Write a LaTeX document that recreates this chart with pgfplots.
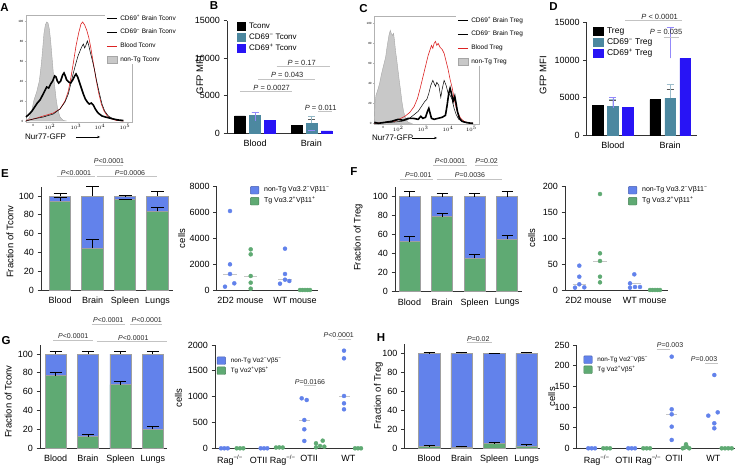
\documentclass[border=0pt]{standalone}
\usepackage{fontspec}
\setmainfont{Liberation Sans}
\usepackage{pgfplots}
\pgfplotsset{compat=1.18}
\usetikzlibrary{arrows.meta}

\definecolor{cblue}{RGB}{98,130,235}
\definecolor{cgreen}{RGB}{95,170,115}
\definecolor{cteal}{RGB}{76,136,160}
\definecolor{cvivid}{RGB}{40,20,245}
\definecolor{cred}{RGB}{220,35,35}
\definecolor{hgrey}{RGB}{200,200,200}
\definecolor{sigline}{RGB}{195,195,195}

\newcommand{\fs}[1]{\fontsize{#1}{#1}\selectfont}
\newcommand{\m}{\textsuperscript{−}}
\newcommand{\p}{\textsuperscript{+}}

\tikzset{pv/.style={font=\fs{7}, anchor=south, inner sep=1.2pt, text=black!85},
  sig/.style={sigline, line width=0.8pt},
  lett/.style={font=\bfseries\fs{11.5}}}

\pgfplotsset{
  every axis/.append style={/pgf/number format/assume math mode=true,
    /pgf/number format/set thousands separator={}, scaled ticks=false},
  base/.style={scale only axis, anchor=south west, clip=false},
  prism/.style={base, axis x line=bottom, axis y line=left,
    axis line style={-, line width=0.8pt, black!80},
    tick align=outside, major tick length=3.5pt,
    ytick style={line width=0.8pt, black!80}, xtick style={draw=none},
    tick label style={font=\fs{9}}, label style={font=\fs{9.5}},
    legend cell align=left},
  flow/.style={base, axis line style={line width=0.5pt, gray!60},
    tick pos=left, tick align=outside, major tick length=1.5pt,
    tick style={gray!60, line width=0.4pt},
    tick label style={font=\fs{3}, inner sep=1pt}, legend cell align=left},
  errs/.style={forget plot, draw=none, mark=none, error bars/.cd, y dir=plus, y explicit,
    error bar style={draw=black, line width=0.7pt},
    error mark options={rotate=90, mark size=#1, draw=black, line width=0.7pt}},
  sqleg/.style={legend image code/.code={\fill[#1] (0pt,-4pt) rectangle (8pt,4pt);}},
  sqlegw/.style={legend image code/.code={\fill[#1] (0pt,-4pt) rectangle (10pt,4pt);}},
  dotleg/.style={legend image code/.code={\filldraw[fill=#1, draw=#1!75!black, line width=0.4pt, rounded corners=0.8pt] (0pt,-3.8pt) rectangle (8.5pt,3.8pt);}},
  lineleg/.style={legend image code/.code={\draw[#1] (0pt,0pt) -- (10pt,0pt);}},
  boxleg/.style={legend image code/.code={\filldraw[fill=hgrey, draw=gray!70, line width=0.4pt] (0pt,-3.5pt) rectangle (10pt,3.5pt);}},
  bleg/.style={legend style={anchor=north west, draw=none, fill=none, inner sep=0pt, row sep=2.3pt, font=\fs{8},
    nodes={inner sep=0.5pt, text height=6pt, text depth=1.7pt},
    /tikz/every odd column/.append style={column sep=3pt}}},
  sleg/.style={legend style={anchor=north west, draw=none, fill=none, inner sep=0pt, row sep=2.5pt, font=\fs{#1},
    nodes={inner sep=0.5pt, text height=5pt, text depth=1.5pt},
    /tikz/every odd column/.append style={column sep=4.5pt}}},
  hleg/.style={legend style={anchor=north west, draw=none, fill=white, inner sep=1pt, row sep=6.5pt, font=\fs{6.5},
    nodes={inner sep=0.5pt, text height=4.8pt, text depth=1.4pt},
    /tikz/every odd column/.append style={column sep=2pt}}},
  dots/.style={forget plot, only marks, mark=*, mark size=2pt, mark options={draw=#1, fill=#1}},
}

\begin{document}
\begin{tikzpicture}
\path[use as bounding box] (0,0) rectangle (738pt,466pt);

% ---------------- A : Tconv histograms
\begin{axis}[flow, hleg, at={(26pt,344pt)}, width=106pt, height=107pt,
  xmin=78, xmax=396, ymin=-1, ymax=106,
  xtick={100,150,228,300,375}, xticklabels={0,$10^2$,$10^3$,$10^4$,$10^5$},
  ytick={0,20,40,60,80,100},
  legend style={at={(0.745,1.012)}}]
\addplot[forget plot, fill=hgrey, draw=gray!70, line width=0.4pt] coordinates {
 (78,0.3)(88,3)(95,10)(102,21)(110,29)(118,40)(124,57)(128,72)(132,88)(136,96)(140,99)
 (144,98)(148,92)(152,80)(156,64)(160,48)(164,35)(168,23)(173,12)(180,4)(190,0.5)(200,0)} \closedcycle;
\addplot[forget plot, cred, line width=0.6pt] coordinates {
 (78,0.5)(100,2)(130,5)(160,8)(180,12)(195,20)(205,30)(212,42)(220,58)(228,75)(236,88)(243,97)
 (248,99)(254,96)(260,91)(266,84)(272,74)(280,58)(288,42)(296,28)(304,17)(312,10)(322,5)(335,2)(350,0.5)(370,0)};
\addplot[forget plot, black, line width=0.5pt] coordinates {
 (78,0)(100,2)(130,4)(160,7)(180,12)(195,19)(205,27)(213,38)(220,48)(228,58)(234,65)(240,70)(245,74)
 (250,77)(254,73)(258,76)(262,80)(266,76)(270,70)(276,62)(283,52)(290,40)(298,28)(306,17)(314,10)(325,5)(340,2)(355,0.5)(370,0)};
\addplot[forget plot, black, line width=1.6pt] coordinates {
 (78,4)(88,7)(96,10)(104,14)(112,18)(120,21)(128,26)(134,30)(140,34)(146,33)(152,37)(158,40)(164,45)
 (168,44)(172,40)(176,38)(182,40)(188,46)(192,48)(196,45)(200,41)(206,39)(212,38)(218,41)(224,45)(228,47)
 (233,44)(238,39)(244,33)(250,27)(256,22)(262,19)(268,17)(274,18)(280,16)(286,12)(292,9)(298,7)(306,5)
 (316,4)(328,3)(340,2)(355,1)(370,0.5)};
\addlegendimage{lineleg={black,line width=1.6pt}}\addlegendentry{CD69\p{} Brain Tconv}
\addlegendimage{lineleg={black,line width=0.5pt}}\addlegendentry{CD69\m{} Brain Tconv}
\addlegendimage{lineleg={cred,line width=0.6pt}}\addlegendentry{Blood Tconv}
\addlegendimage{boxleg}\addlegendentry{non-Tg Tconv}
\node[anchor=west, font=\fs{8}, inner sep=0pt] at (rel axis cs:-0.01,-0.14) {Nur77-GFP};
\draw[-{Stealth[length=3pt]}, line width=0.7pt] (rel axis cs:0.47,-0.14) -- (rel axis cs:0.70,-0.14);
\end{axis}

% ---------------- B : Tconv MFI
\begin{axis}[prism, bleg, at={(227pt,332.7pt)}, width=106pt, height=112.6pt,
  xmin=0.504, xmax=2.381, ymin=0, ymax=15000, ytick={0,5000,10000,15000},
  xtick={1,2}, xticklabels={Blood,Brain},
  ylabel={GFP MFI}, ylabel style={at={(axis description cs:-0.255,0.518)}, anchor=center},
  legend style={at={(0.094,0.988)}}]
\addplot[forget plot, ybar, bar width=10.7pt, bar shift=-15pt, fill=black, draw=black,
  error bars/.cd, y dir=plus, y explicit, error bar style={black!65, line width=0.7pt},
  error mark options={rotate=90, mark size=3.5pt, black!65, line width=0.7pt}]
  coordinates {(1,2308) +- (0,488) (2,1065) +- (0,843)};
\addplot[forget plot, ybar, bar width=10.7pt, bar shift=0pt, fill=cteal, draw=cteal,
  error bars/.cd, y dir=plus, y explicit, error bar style={cteal!60, line width=0.7pt},
  error mark options={rotate=90, mark size=3.5pt, cteal!60, line width=0.7pt}]
  coordinates {(1,2352) +- (0,444) (2,1331) +- (0,977)};
\addplot[forget plot, ybar, bar width=10.7pt, bar shift=15pt, fill=cvivid, draw=cvivid,
  error bars/.cd, y dir=plus, y explicit, error bar style={cvivid!50, line width=0.7pt},
  error mark options={rotate=90, mark size=3.5pt, cvivid!50, line width=0.7pt}]
  coordinates {(1,1686) +- (0,1110) (2,311) +- (0,133)};
\addlegendimage{sqleg=black}\addlegendentry{Tconv}
\addlegendimage{sqleg=cteal}\addlegendentry{CD69\m{} Tconv}
\addlegendimage{sqleg=cvivid}\addlegendentry{CD69\p{} Tconv}
\draw[sig] (axis cs:0.734,5541) -- (axis cs:1.649,5541);
\node[pv, font=\fs{7.5}] at (axis cs:1.295,5541) {\textit{P} = 0.0027};
\draw[sig] (axis cs:1.053,7233) -- (axis cs:2.061,7233);
\node[pv, font=\fs{7.5}] at (axis cs:1.571,7233) {\textit{P} = 0.043};
\draw[sig] (axis cs:1.384,8871) -- (axis cs:2.327,8871);
\node[pv, font=\fs{7.5}] at (axis cs:1.826,8871) {\textit{P} = 0.17};
\draw[sig] (axis cs:2.115,2877) -- (axis cs:2.357,2877);
\node[pv, font=\fs{7.5}] at (axis cs:2.162,2877) {\textit{P} = 0.011};
\end{axis}

% ---------------- C : Treg histograms
\begin{axis}[flow, hleg, at={(374.3pt,342pt)}, width=104.7pt, height=107.3pt,
  xmin=28, xmax=343, ymin=-0.67, ymax=106.7,
  xtick={55,100,175,250,320}, xticklabels={0,$10^2$,$10^3$,$10^4$,$10^5$},
  ytick={0,20,40,60,80,100},
  legend style={at={(0.78,1.01)}}]
\addplot[forget plot, fill=hgrey, draw=gray!70, line width=0.4pt] coordinates {
 (28,0)(30,20)(33,28)(38,33)(44,40)(50,50)(56,58)(62,66)(67,78)(72,88)(76,93)(79,90)(83,88)(86,90)
 (89,82)(92,72)(95,65)(99,54)(103,43)(107,33)(111,22)(116,12)(122,5)(130,1)(140,0)} \closedcycle;
\addplot[forget plot, cred, line width=0.6pt] coordinates {
 (28,0)(60,1)(90,2)(120,7)(135,11)(148,17)(158,25)(166,35)(174,46)(182,57)(190,68)(196,74)(200,78)
 (204,75)(208,80)(212,82)(216,78)(220,80)(226,76)(232,74)(238,70)(244,62)(250,54)(256,44)(262,36)
 (268,25)(274,16)(280,10)(288,5)(298,2)(310,0.5)(325,0)};
\addplot[forget plot, black, line width=0.5pt] coordinates {
 (28,0)(80,1)(110,2)(130,4)(145,8)(160,12)(170,17)(180,22)(186,24)(192,30)(198,38)(204,43)(208,40)
 (212,37)(216,41)(222,38)(228,26)(232,34)(238,43)(244,38)(250,30)(256,28)(262,24)(268,15)(274,9)
 (282,4)(292,2)(305,0.5)(320,0)};
\addplot[forget plot, black, line width=1.6pt] coordinates {
 (28,1)(40,0)(60,1)(80,2)(100,4)(115,3)(130,5)(145,5)(160,4)(168,7)(174,5)(182,6)(188,12)(192,15)
 (196,10)(200,5)(208,4)(220,5)(232,6)(242,8)(247,18)(252,30)(256,35)(260,30)(265,22)(270,27)(274,20)
 (278,12)(284,5)(292,2)(302,1)(315,0.3)(325,0)};
\addlegendimage{lineleg={black,line width=1.6pt}}\addlegendentry{CD69\p{} Brain Treg}
\addlegendimage{lineleg={black,line width=0.5pt}}\addlegendentry{CD69\m{} Brain Treg}
\addlegendimage{lineleg={cred,line width=0.6pt}}\addlegendentry{Blood Treg}
\addlegendimage{boxleg}\addlegendentry{non-Tg Treg}
\node[anchor=west, font=\fs{8}, inner sep=0pt] at (rel axis cs:-0.022,-0.13) {Nur77-GFP};
\draw[-{Stealth[length=3pt]}, line width=0.7pt] (rel axis cs:0.36,-0.13) -- (rel axis cs:0.60,-0.13);
\end{axis}

% ---------------- D : Treg MFI
\begin{axis}[prism, bleg, at={(586.7pt,331pt)}, width=110.3pt, height=112.3pt,
  xmin=0.541, xmax=2.47, ymin=0, ymax=15000, ytick={0,5000,10000,15000},
  xtick={1,2}, xticklabels={Blood,Brain},
  ylabel={GFP MFI}, ylabel style={at={(axis description cs:-0.396,0.534)}, anchor=center},
  legend style={at={(0.057,0.965)}, row sep=1.6pt, font=\fs{8.5}, nodes={text height=6.3pt, text depth=1.8pt}}]
\addplot[forget plot, ybar, bar width=10.7pt, bar shift=-15pt, fill=black, draw=black,
  error bars/.cd, y dir=plus, y explicit, error bar style={black!65, line width=0.7pt},
  error mark options={rotate=90, mark size=3.5pt, black!65, line width=0.7pt}]
  coordinates {(1,3916) +- (0,757) (2,4718) +- (0,1424)};
\addplot[forget plot, ybar, bar width=10.7pt, bar shift=0pt, fill=cteal, draw=cteal,
  error bars/.cd, y dir=plus, y explicit, error bar style={cteal!55, line width=0.7pt},
  error mark options={rotate=90, mark size=3.5pt, cteal!55, line width=0.7pt}]
  coordinates {(1,3872) +- (0,935) (2,4896) +- (0,1870)};
\addplot[forget plot, ybar, bar width=10.7pt, bar shift=15pt, fill=cvivid, draw=cvivid,
  error bars/.cd, y dir=plus, y explicit, error bar style={cvivid!50, line width=0.7pt},
  error mark options={rotate=90, mark size=3.5pt, cvivid!50, line width=0.7pt}]
  coordinates {(1,3650) +- (0,1380) (2,10237) +- (0,4138)};
\addlegendimage{sqlegw=black}\addlegendentry{Treg}
\addlegendimage{sqlegw=cteal}\addlegendentry{CD69\m{} Treg}
\addlegendimage{sqlegw=cvivid}\addlegendentry{CD69\p{} Treg}
\draw[sig] (axis cs:1.214,15270) -- (axis cs:2.211,15270);
\node[pv, font=\fs{7.5}] at (axis cs:1.817,15270) {\textit{P} < 0.0001};
\draw[sig] (axis cs:1.887,13053) -- (axis cs:2.151,13053);
\node[pv, font=\fs{7.5}] at (axis cs:1.93,13250) {\textit{P} = 0.035};
\end{axis}

% ---------------- E left : fraction of Tconv
\begin{axis}[prism, at={(41pt,176pt)}, width=132pt, height=103.3pt,
  xmin=0.415, xmax=4.477, ymin=0, ymax=110, ytick={0,20,...,100},
  xtick={1,2,3,4}, xticklabels={Blood,Brain,Spleen,Lungs},
  ylabel={Fraction of Tconv}, ylabel style={at={(axis description cs:-0.235,0.467)}, anchor=center}]
\addplot[ybar, bar width=21.5pt, bar shift=0pt, fill=cblue, draw=gray!75, line width=0.6pt]
  coordinates {(1,100)(2,100)(3,100)(4,100)};
\addplot[ybar, bar width=21.5pt, bar shift=0pt, fill=cgreen, draw=gray!75, line width=0.6pt]
  coordinates {(1,94.7)(2,44.2)(3,96.1)(4,83.7)};
\addplot[errs=6.5pt] coordinates {(1,94.7) +- (0,3.5) (2,44.2) +- (0,9.5) (3,96.1) +- (0,0.5) (4,83.7) +- (0,4.6)};
\addplot[errs=6.5pt] coordinates {(1,100) +- (0,3.2) (2,100) +- (0,10.2) (3,100) +- (0,0.4) (4,100) +- (0,4.6)};
\draw[sig] (axis cs:0.898,120.7) -- (axis cs:2.077,120.7);
\node[pv] at (axis cs:1.492,120.7) {\textit{P}<0.0001};
\draw[sig] (axis cs:2.077,133.1) -- (axis cs:2.947,133.1);
\node[pv] at (axis cs:2.507,133.1) {\textit{P}<0.0001};
\draw[sig] (axis cs:2.129,120.7) -- (axis cs:3.975,120.7);
\node[pv] at (axis cs:3.153,120.7) {\textit{P}=0.0006};
\end{axis}

% ---------------- E right : cells (2D2)
\begin{axis}[prism, sleg=7, at={(216.7pt,176pt)}, width=101.6pt, height=104pt,
  xmin=216.7, xmax=318.3, ymin=0, ymax=8000, ytick={0,2000,...,8000},
  xtick={240.3,295}, xticklabels={2D2 mouse,WT mouse},
  ylabel={cells}, ylabel style={at={(axis description cs:-0.344,0.495)}, anchor=center},
  legend style={at={(0.328,1.0)}, row sep=3pt}]
\addplot[forget plot, gray!45, line width=0.6pt] coordinates {(223.3,1231)(236.7,1231)};
\addplot[forget plot, gray!45, line width=0.6pt] coordinates {(244,1077)(257.3,1077)};
\addplot[forget plot, gray!45, line width=0.6pt] coordinates {(278,820)(292,820)};
\addplot[dots=cblue] coordinates {
 (225,256)(230,6077)(230,1974)(230,1231)(234.3,513)(285,3179)(285,1231)(285,795)(280,487)(289.3,692)};
\addplot[dots=cgreen] coordinates {
 (250.7,3128)(250.7,2744)(250.7,1077)(250.7,564)(250.7,103)(300,0)(302.5,0)(305,0)(307.5,0)(310,0)};
\addlegendimage{dotleg=cblue}\addlegendentry{non-Tg Vα3.2\m{}Vβ11\m}
\addlegendimage{dotleg=cgreen}\addlegendentry{Tg Vα3.2\p{}Vβ11\p}
\end{axis}

% ---------------- F left : fraction of Treg
\begin{axis}[prism, at={(395pt,174.3pt)}, width=126.7pt, height=104.5pt,
  xmin=0.555, xmax=4.445, ymin=0, ymax=110, ytick={0,20,...,100},
  xtick={1,2,3,4}, xticklabels={Blood,Brain,Spleen,Lungs},
  ylabel={Fraction of Treg}, ylabel style={at={(axis description cs:-0.29,0.519)}, anchor=center}]
\addplot[ybar, bar width=21pt, bar shift=0pt, fill=cblue, draw=gray!75, line width=0.6pt]
  coordinates {(1,100)(2,100)(3,100)(4,100)};
\addplot[ybar, bar width=21pt, bar shift=0pt, fill=cgreen, draw=gray!75, line width=0.6pt]
  coordinates {(1,52.6)(2,78.9)(3,35.1)(4,55.1)};
\addplot[errs=5.5pt] coordinates {(1,52.6) +- (0,5.3) (2,78.9) +- (0,3.6) (3,35.1) +- (0,4.2) (4,55.1) +- (0,4.5)};
\addplot[errs=5.5pt] coordinates {(1,100) +- (0,5.6) (2,100) +- (0,3.2) (3,100) +- (0,3.2) (4,100) +- (0,5.6)};
\draw[sig] (axis cs:0.708,118.3) -- (axis cs:1.730,118.3);
\node[pv] at (axis cs:1.270,118.3) {\textit{P}=0.001};
\draw[sig] (axis cs:1.730,133.4) -- (axis cs:2.754,133.4);
\node[pv] at (axis cs:2.242,133.4) {\textit{P}<0.0001};
\draw[sig] (axis cs:3.009,133.4) -- (axis cs:3.724,133.4);
\node[pv] at (axis cs:3.368,133.4) {\textit{P}=0.02};
\draw[sig] (axis cs:1.834,118.3) -- (axis cs:3.828,118.3);
\node[pv] at (axis cs:2.856,118.3) {\textit{P}=0.0036};
\end{axis}

% ---------------- F right : cells (2D2) Treg
\begin{axis}[prism, sleg=7, at={(565pt,176pt)}, width=103.3pt, height=104pt,
  xmin=565, xmax=668.3, ymin=0, ymax=200, ytick={0,50,...,200},
  xtick={588.5,644.5}, xticklabels={2D2 mouse,WT mouse},
  ylabel={cells}, ylabel style={at={(axis description cs:-0.322,0.5)}, anchor=center},
  legend style={at={(0.61,1.0)}, row sep=3pt}]
\addplot[forget plot, gray!45, line width=0.6pt] coordinates {(572.5,11)(586,11)};
\addplot[forget plot, gray!45, line width=0.6pt] coordinates {(593,55.8)(607,55.8)};
\addplot[forget plot, gray!45, line width=0.6pt] coordinates {(627.5,12.8)(641,12.8)};
\addplot[dots=cblue] coordinates {
 (575,4.5)(579.3,11)(579.3,25.6)(579.3,46.8)(584.3,5.1)(630,12.8)(630,4.5)(634.3,30.1)(635,5.8)(640,5.8)};
\addplot[dots=cgreen] coordinates {
 (600,184.6)(600,70.5)(600,55.8)(600,25.6)(600,14.7)(650,0)(652.5,0)(655,0)(657.5,0)(660,0)};
\addlegendimage{dotleg=cblue}\addlegendentry{non-Tg Vα3.2\m{}Vβ11\m}
\addlegendimage{dotleg=cgreen}\addlegendentry{Tg Vα3.2\p{}Vβ11\p}
\end{axis}

% ---------------- G left : fraction of Tconv (OTII)
\begin{axis}[prism, at={(40pt,17.7pt)}, width=126.7pt, height=103.7pt,
  xmin=0.52, xmax=4.43, ymin=0, ymax=110, ytick={0,20,...,100},
  xtick={1,2,3,4}, xticklabels={Blood,Brain,Spleen,Lungs},
  ylabel={Fraction of Tconv}, ylabel style={at={(axis description cs:-0.25,0.449)}, anchor=center}]
\addplot[ybar, bar width=21pt, bar shift=0pt, fill=cblue, draw=gray!75, line width=0.6pt]
  coordinates {(1,100)(2,100)(3,100)(4,100)};
\addplot[ybar, bar width=21pt, bar shift=0pt, fill=cgreen, draw=gray!75, line width=0.6pt]
  coordinates {(1,77.0)(2,12.4)(3,67.5)(4,20.1)};
\addplot[errs=6pt] coordinates {(1,77.0) +- (0,3.6) (2,12.4) +- (0,2.4) (3,67.5) +- (0,3.2) (4,20.1) +- (0,3.2)};
\addplot[errs=6pt] coordinates {(1,100) +- (0,2.5) (2,100) +- (0,2.8) (3,100) +- (0,2.8) (4,100) +- (0,2.8)};
\draw[sig] (axis cs:0.930,114.8) -- (axis cs:2.165,114.8);
\node[pv] at (axis cs:1.548,114.8) {\textit{P}<0.0001};
\draw[sig] (axis cs:2.27,113) -- (axis cs:4.43,113);
\node[pv] at (axis cs:3.40,113) {\textit{P}<0.0001};
\draw[sig] (axis cs:2.116,131.8) -- (axis cs:3.143,131.8);
\node[pv] at (axis cs:2.628,131.8) {\textit{P}<0.0001};
\draw[sig] (axis cs:3.298,131.8) -- (axis cs:4.276,131.8);
\node[pv] at (axis cs:3.813,131.8) {\textit{P}<0.0001};
\end{axis}

% ---------------- G right : cells (OTII) Tconv
\begin{axis}[prism, sleg=6.3, at={(215pt,17.7pt)}, width=148.3pt, height=103.3pt,
  xmin=215, xmax=363.3, ymin=0, ymax=2000, ytick={0,500,...,2000},
  xtick={230,272.7,309,348.3}, xticklabels={Rag\textsuperscript{−/−},OTII Rag\textsuperscript{−/−},OTII,WT},
  ylabel={cells}, ylabel style={at={(axis description cs:-0.247,0.487)}, anchor=center},
  legend style={at={(0.0115,0.889)}, row sep=2pt}]
\addplot[forget plot, gray!45, line width=0.6pt] coordinates {(299,548)(310,548)};
\addplot[forget plot, gray!45, line width=0.6pt] coordinates {(339,1000)(350,1000)};
\addplot[dots=cblue] coordinates {
 (221,0)(224.3,0)(227.7,0)(260.7,0)(264,0)(267.3,0)
 (301.7,968)(306.7,935)(304.3,548)(304.3,368)(304.3,142)
 (344,1890)(344,1742)(344,1013)(344,871)(344,755)};
\addplot[dots=cgreen] coordinates {
 (236.7,0)(240,0)(243.3,0)(276,15)(279.3,18)(282.7,15)
 (316,97)(316,19)(320,45)(322.7,148)(324.3,32)(355,0)(358,0)(361,0)};
\addlegendimage{dotleg=cblue}\addlegendentry{non-Tg Vα2\m{}Vβ5\m}
\addlegendimage{dotleg=cgreen}\addlegendentry{Tg Vα2\p{}Vβ5\p}
\draw[sig] (axis cs:304.3,1212) -- (axis cs:315.7,1212);
\node[pv] at (axis cs:310,1212) {\textit{P}=0.0166};
\draw[sig] (axis cs:338.3,2116) -- (axis cs:350.7,2116);
\node[pv] at (axis cs:338.7,2116) {\textit{P}<0.0001};
\end{axis}

% ---------------- H left : fraction of Treg (OTII)
\begin{axis}[prism, at={(404.3pt,17.7pt)}, width=135.7pt, height=104.5pt,
  xmin=0.234, xmax=4.41, ymin=0, ymax=110, ytick={0,20,...,100},
  xtick={1,2,3,4}, xticklabels={Blood,Brain,Spleen,Lungs},
  ylabel={Fraction of Treg}, ylabel style={at={(axis description cs:-0.19,0.503)}, anchor=center}]
\addplot[ybar, bar width=21.5pt, bar shift=0pt, fill=cblue, draw=gray!75, line width=0.6pt]
  coordinates {(1,100)(2,100)(3,100)(4,100)};
\addplot[ybar, bar width=21.5pt, bar shift=0pt, fill=cgreen, draw=gray!75, line width=0.6pt]
  coordinates {(1,1.8)(2,1.1)(3,5.3)(4,2.5)};
\addplot[errs=5.5pt] coordinates {(1,1.8) +- (0,1.7) (2,1.1) +- (0,1.4) (3,5.3) +- (0,0.7) (4,2.5) +- (0,1.7)};
\addplot[errs=5.5pt] coordinates {(1,100) +- (0,0.7) (2,100) +- (0,1.0) (3,100) +- (0,0.4) (4,100) +- (0,1.0)};
\draw[sig] (axis cs:2.154,111.2) -- (axis cs:2.923,111.2);
\node[pv] at (axis cs:2.511,111.2) {\textit{P}=0.02};
\end{axis}

% ---------------- H right : cells (OTII) Treg
\begin{axis}[prism, sleg=6.3, at={(576.7pt,17.7pt)}, width=158.3pt, height=103.3pt,
  xmin=576.7, xmax=735, ymin=0, ymax=250, ytick={0,50,...,250},
  xtick={596.7,638.3,674,713.3}, xticklabels={Rag\textsuperscript{−/−},OTII Rag\textsuperscript{−/−},OTII,WT},
  ylabel={cells}, ylabel style={at={(axis description cs:-0.158,0.5)}, anchor=center},
  legend style={at={(0.042,0.898)}, row sep=2pt}]
\addplot[forget plot, gray!45, line width=0.6pt] coordinates {(666,82.3)(677,82.3)};
\addplot[dots=cblue] coordinates {
 (588.3,0)(591.7,0)(595,0)(628.3,0)(631.7,0)(635,0)
 (671.7,221.8)(671.7,94.4)(671.7,82.3)(671.7,52.4)(671.7,20.2)
 (708.3,79)(714.3,177.4)(714.3,60.5)(714.3,48.4)(717.7,87)};
\addplot[dots=cgreen] coordinates {
 (603.3,0)(606.7,0)(610,0)(643.3,0)(646.7,0)(650,0)
 (682.7,0)(686,9.7)(686.7,4)(689.3,0)(684.3,1.6)(721.7,0)(725,0)(728.3,0)(731.7,0)};
\addlegendimage{dotleg=cblue}\addlegendentry{non-Tg Vα2\m{}Vβ5\m}
\addlegendimage{dotleg=cgreen}\addlegendentry{Tg Vα2\p{}Vβ5\p}
\draw[sig] (axis cs:656.7,239.6) -- (axis cs:670,239.6);
\node[pv] at (axis cs:670,239.6) {\textit{P}=0.003};
\draw[sig] (axis cs:705,205.7) -- (axis cs:718.3,205.7);
\node[pv] at (axis cs:704,205.7) {\textit{P}=0.003};
\end{axis}

% panel letters
\node[lett] at (4.5pt,458.5pt) {A};
\node[lett] at (214pt,460pt) {B};
\node[lett] at (363.5pt,457pt) {C};
\node[lett] at (553.5pt,459.3pt) {D};
\node[lett] at (5pt,292.7pt) {E};
\node[lett] at (354pt,294pt) {F};
\node[lett] at (6pt,125pt) {G};
\node[lett] at (381pt,128.7pt) {H};
\end{tikzpicture}
\end{document}
